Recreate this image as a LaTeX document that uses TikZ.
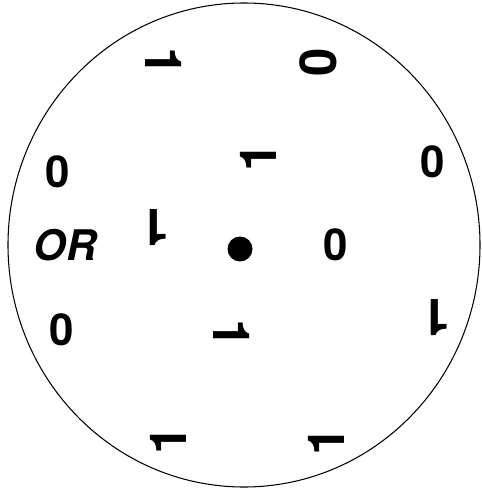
\documentclass[tikz,border=0pt]{standalone}
\usepackage{fontspec}
\setmainfont{TeX Gyre Heros}
\usepackage{tikz}
\tikzset{
  digit/.style={font=\bfseries\fontsize{25}{25}\selectfont,inner sep=0pt},
  onedigit/.style={font=\bfseries\fontsize{29}{29}\selectfont,inner sep=0pt},
  word/.style={font=\bfseries\itshape\fontsize{24}{24}\selectfont,inner sep=0pt},
  rim/.style={draw=black,line width=0.6pt},
  hub/.style={circle,fill=black,inner sep=0pt,minimum size=0.5cm}
}
\begin{document}
\begin{tikzpicture}[x=0.02cm,y=-0.02cm]
  \useasboundingbox (0,0) rectangle (481,489);
  \coordinate (c) at (244,245);
  \draw[rim] (c) ellipse [x radius=236,y radius=242];
  \node[hub] (dot) at (240,249) {};
  % the ones, each turned
  \foreach \x/\y/\a [count=\i] in {164/62/-90, 258/157/90, 155/228/180,
      436/318/180, 232/334/-90, 168/440/90, 326/441/90}
    \node[onedigit,rotate=\a] (one\i) at (\x,\y) {1};
  % the zeros
  \node[onedigit,rotate=90] (zeroA) at (318,62) {0};
  \foreach \x/\y [count=\i] in {58/172, 433/162, 336/245, 62/330}
    \node[digit] (zero\i) at (\x,\y) {0};
  \node[word] (or) at (65,245) {OR};
\end{tikzpicture}
\end{document}
